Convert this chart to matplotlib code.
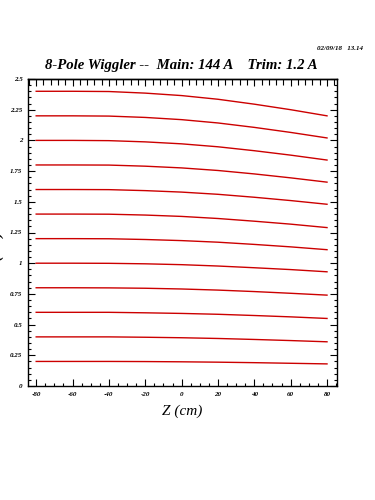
import matplotlib
matplotlib.use("Agg")
import matplotlib.pyplot as plt
from matplotlib.ticker import MultipleLocator, FixedLocator

# field-line data: Z (cm) and Y (cm) for each trajectory
z = [-80, -60, -40, -20, 0, 20, 40, 60, 80]
y240 = [2.400, 2.400, 2.398, 2.385, 2.365, 2.335, 2.295, 2.250, 2.200]
y220 = [2.200, 2.200, 2.198, 2.187, 2.169, 2.142, 2.106, 2.065, 2.020]
y200 = [2.000, 2.000, 1.998, 1.988, 1.972, 1.948, 1.916, 1.880, 1.840]
y180 = [1.800, 1.800, 1.799, 1.790, 1.776, 1.755, 1.727, 1.695, 1.660]
y160 = [1.600, 1.600, 1.599, 1.591, 1.579, 1.561, 1.537, 1.510, 1.480]
y140 = [1.400, 1.400, 1.399, 1.392, 1.381, 1.364, 1.342, 1.318, 1.290]
y120 = [1.200, 1.200, 1.199, 1.193, 1.184, 1.171, 1.153, 1.133, 1.110]
y100 = [1.000, 1.000, 0.999, 0.995, 0.988, 0.977, 0.963, 0.948, 0.930]
y080 = [0.800, 0.800, 0.799, 0.796, 0.790, 0.781, 0.769, 0.755, 0.740]
y060 = [0.600, 0.600, 0.600, 0.596, 0.591, 0.584, 0.574, 0.563, 0.550]
y040 = [0.400, 0.400, 0.400, 0.397, 0.393, 0.387, 0.379, 0.370, 0.360]
y020 = [0.200, 0.200, 0.200, 0.199, 0.197, 0.194, 0.190, 0.185, 0.180]
curves = [y240, y220, y200, y180, y160, y140, y120, y100, y080, y060, y040, y020]

xticks = [-80, -60, -40, -20, 0, 20, 40, 60, 80]
xticklabels = ["-80", "-60", "-40", "-20", "0", "20", "40", "60", "80"]
yticks = [0, 0.25, 0.5, 0.75, 1, 1.25, 1.5, 1.75, 2, 2.25, 2.5]
yticklabels = ["0", "0.25", "0.5", "0.75", "1", "1.25", "1.5", "1.75", "2", "2.25", "2.5"]

title = "8-Pole Wiggler --  Main: 144 A    Trim: 1.2 A"
stamp = "02/09/18   13.14"

serif = "Liberation Serif"

fig = plt.figure(figsize=(3.75, 5), dpi=100)
ax = fig.add_axes([0.0747, 0.228, 0.824, 0.614])

for yy in curves:
    ax.plot(z, yy, color="#cc0000", lw=1.0)

ax.set_xlim(-84.5, 85.5)
ax.set_ylim(0, 2.5)

ax.xaxis.set_major_locator(FixedLocator(xticks))
ax.set_xticklabels(xticklabels)
ax.xaxis.set_minor_locator(MultipleLocator(5))
ax.yaxis.set_major_locator(FixedLocator(yticks))
ax.set_yticklabels(yticklabels)
ax.yaxis.set_minor_locator(MultipleLocator(0.05))

ax.tick_params(which="both", direction="in", left=True, right=True, bottom=True, top=False)
ax.tick_params(which="major", length=5, width=0.8, pad=4)
ax.tick_params(which="minor", length=2.5, width=0.8)
for lab in ax.get_xticklabels() + ax.get_yticklabels():
    lab.set_fontfamily(serif)
    lab.set_fontstyle("italic")
    lab.set_fontweight("bold")
    lab.set_fontsize(5)

# top axis has its own tick spacing, no labels
top = ax.secondary_xaxis("top")
top.xaxis.set_major_locator(FixedLocator(xticks))
top.xaxis.set_minor_locator(MultipleLocator(4))
top.tick_params(which="both", direction="in", labeltop=False)
top.tick_params(which="major", length=5, width=0.8)
top.tick_params(which="minor", length=4, width=0.8)

for sp in ax.spines.values():
    sp.set_linewidth(1.0)
top.spines["top"].set_linewidth(1.0)

ax.set_xlabel("Z (cm)", fontfamily=serif, fontstyle="italic", fontsize=11, labelpad=6)

fig.text(0.483, 0.870, title, ha="center", va="center", fontfamily=serif,
         fontstyle="italic", fontweight="bold", fontsize=10.6)
fig.text(0.968, 0.902, stamp, ha="right", va="center", fontfamily=serif,
         fontstyle="italic", fontweight="bold", fontsize=5)

# y label sits mostly off the left edge, as in the original
fig.text(-0.006, 0.55, "Y (cm)  at  X=0", rotation=90, ha="center", va="center",
         fontfamily=serif, fontstyle="italic", fontweight="bold", fontsize=11)

fig.savefig("out.png", dpi=100)
